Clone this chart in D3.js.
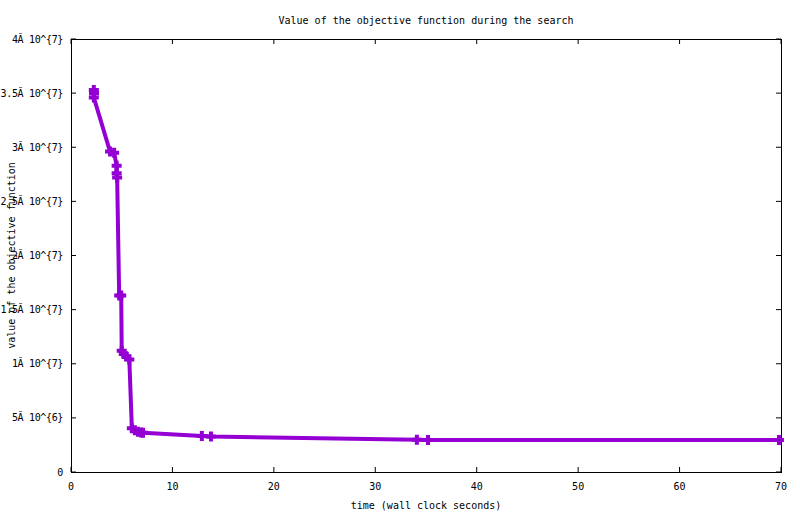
<!DOCTYPE html>
<html>
  <head>
    <script src="https://d3js.org/d3.v7.min.js" charset="utf-8"></script>
    <meta charset="UTF-8">
    <title>objective function</title>
    <style>
      body { margin: 0; background: #fff; }
      text { font-family: "DejaVu Sans Mono", monospace; font-size: 10px; fill: #000; }
      .yticks text { letter-spacing: -0.35px; }
    </style>
  </head>
  <body>
    <svg class="chart"></svg>
    <script type="text/javascript">

     // search trace: wall clock seconds -> objective value
     var times  = [2.25, 2.27, 2.25, 3.85, 4.25, 4.5, 4.5, 4.55, 4.75, 4.95,
                   5.0, 5.2, 5.45, 5.75, 6.0, 6.3, 6.6, 6.9, 7.1,
                   12.9, 13.8, 34.1, 35.2, 69.8];
     var values = [3.53e7, 3.50e7, 3.46e7, 2.96e7, 2.95e7, 2.83e7, 2.76e7, 2.72e7, 1.63e7, 1.63e7,
                   1.12e7, 1.09e7, 1.07e7, 1.04e7, 4.05e6, 3.85e6, 3.72e6, 3.66e6, 3.62e6,
                   3.33e6, 3.28e6, 2.97e6, 2.96e6, 2.95e6];

     var xTicks = [0, 10, 20, 30, 40, 50, 60, 70];
     var yTicks = [0, 5e6, 1e7, 1.5e7, 2e7, 2.5e7, 3e7, 3.5e7, 4e7];
     var yTickLabels = ["0", "5Ă 10^{6}", "1Ă 10^{7}", "1.5Ă 10^{7}", "2Ă 10^{7}",
                        "2.5Ă 10^{7}", "3Ă 10^{7}", "3.5Ă 10^{7}", "4Ă 10^{7}"];

     var width = 800,
         height = 514,
         margin = {top: 39, right: 19, bottom: 42, left: 71},
         tickLen = 5,
         purple = "#9400d3";

     var points = times.map(function(t, i) { return {t: t, v: values[i]}; });

     var chart = d3.select(".chart")
                   .attr("width", width)
                   .attr("height", height);

     var x = d3.scaleLinear().domain([0, 70]).range([margin.left, width - margin.right]);
     var y = d3.scaleLinear().domain([0, 4e7]).range([height - margin.bottom, margin.top]);

     // y axis labels + ticks on both sides
     var yTickSel = chart.append("g").attr("class", "yticks")
                         .selectAll("g").data(yTicks).enter().append("g");
     yTickSel.append("line")
             .attr("x1", x(0)).attr("x2", x(0) + tickLen)
             .attr("y1", function(d) { return y(d); })
             .attr("y2", function(d) { return y(d); })
             .attr("stroke", "#000");
     yTickSel.append("line")
             .attr("x1", x(70)).attr("x2", x(70) - tickLen)
             .attr("y1", function(d) { return y(d); })
             .attr("y2", function(d) { return y(d); })
             .attr("stroke", "#000");
     yTickSel.append("text")
             .attr("x", margin.left - 8)
             .attr("y", function(d) { return y(d); })
             .attr("dy", "0.35em")
             .attr("text-anchor", "end")
             .text(function(d, i) { return yTickLabels[i]; });

     var xTickSel = chart.append("g").attr("class", "xticks")
                         .selectAll("g").data(xTicks).enter().append("g");
     xTickSel.append("line")
             .attr("x1", function(d) { return x(d); })
             .attr("x2", function(d) { return x(d); })
             .attr("y1", y(0)).attr("y2", y(0) - tickLen)
             .attr("stroke", "#000");
     xTickSel.append("line")
             .attr("x1", function(d) { return x(d); })
             .attr("x2", function(d) { return x(d); })
             .attr("y1", y(4e7)).attr("y2", y(4e7) + tickLen)
             .attr("stroke", "#000");
     xTickSel.append("text")
             .attr("x", function(d) { return x(d); })
             .attr("y", y(0) + 14)
             .attr("dy", "0.35em")
             .attr("text-anchor", "middle")
             .text(function(d) { return d; });

     chart.append("rect")
          .attr("x", x(0) + 0.5).attr("y", y(4e7) + 0.5)
          .attr("width", x(70) - x(0)).attr("height", y(0) - y(4e7))
          .attr("fill", "none")
          .attr("stroke", "#000");

     var line = d3.line()
                  .x(function(d) { return x(d.t); })
                  .y(function(d) { return y(d.v); });

     chart.append("path")
          .datum(points)
          .attr("d", line)
          .attr("fill", "none")
          .attr("stroke", purple)
          .attr("stroke-width", 4)
          .attr("stroke-linejoin", "miter");

     var s = 5;
     chart.append("g").attr("class", "marks")
          .selectAll("path").data(points).enter().append("path")
          .attr("d", function(d) {
              var cx = x(d.t), cy = y(d.v);
              return "M" + (cx - s) + "," + cy + "H" + (cx + s) +
                     "M" + cx + "," + (cy - s) + "V" + (cy + s);
          })
          .attr("stroke", purple)
          .attr("stroke-width", 4)
          .attr("fill", "none");

     var midX = (x(0) + x(70)) / 2,
         midY = (y(0) + y(4e7)) / 2;

     chart.append("text")
          .attr("x", midX).attr("y", 20).attr("dy", "0.35em")
          .attr("text-anchor", "middle")
          .text("Value of the objective function during the search");

     chart.append("text")
          .attr("x", midX).attr("y", 505).attr("dy", "0.35em")
          .attr("text-anchor", "middle")
          .text("time (wall clock seconds)");

     chart.append("text")
          .attr("transform", "translate(11," + midY + ") rotate(-90)")
          .attr("dy", "0.35em")
          .attr("text-anchor", "middle")
          .text("value of the objective function");

    </script>
  </body>
</html>
